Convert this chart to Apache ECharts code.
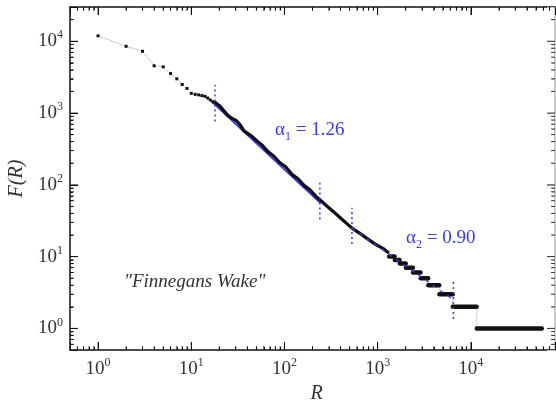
<!DOCTYPE html>
<html>
<head>
<meta charset="utf-8">
<script src="https://cdn.jsdelivr.net/npm/echarts@6/dist/echarts.min.js"></script>
<style>
    html, body { margin: 0; padding: 0; background: #fff; }
    #chart { width: 556px; height: 401px; }
</style>
</head>
<body>
<div id="chart"></div>
<script>
// top ranks, drawn as single dots
var headRank = [1, 2, 3, 4, 5, 6, 7, 8, 9, 10, 11, 12, 13, 14, 15, 16, 17, 18];
var headFreq = [11900, 8500, 7250, 4550, 4400, 3550, 3000, 2500, 2200, 1880, 1820, 1790, 1750, 1710, 1620, 1520, 1440, 1400];

// middle ranks, dense curve
var midRank = [18, 20.3, 22.4, 24.8, 27.4, 30.2, 33.3, 36.8, 40.6, 44.8, 50.7, 57.4, 66.5, 77.2, 89.5, 104, 120, 140, 162, 188, 218, 240, 279, 331, 394, 457, 530, 645, 767, 934, 1138, 1288];
var midFreq = [1400, 1247, 1070, 920, 844, 787, 688, 564, 517, 473, 408, 358, 290, 250, 203, 176, 140, 121, 98, 85, 69, 62, 52, 43, 35, 29.5, 25, 21, 18, 15, 13, 11.5];

// low frequency plateaus
var stepFreq = [10, 9, 8, 7, 6, 5, 4, 3, 2, 1];
var stepStart = [1330, 1530, 1730, 2010, 2400, 2900, 3500, 4600, 6400, 11600];
var stepEnd = [1520, 1720, 2000, 2390, 2880, 3480, 4580, 6380, 11550, 57700];

// fitted power laws
var fit1Rank = [17, 245];
var fit1Freq = [1400, 55];
var fit2Rank = [530, 6500];
var fit2Freq = [25, 2.5];

// dotted markers at the fit bounds
var cutRank = [18, 240, 530, 6500];
var cutLow = [760, 33, 15, 1.35];
var cutHigh = [2450, 107, 48, 4.8];

// decade ticks
var majorTicks = [1, 10, 100, 1000, 10000];
var xMin = 0.5, xMax = 80000;
var yMin = 0.5, yMax = 30000;

var BLUE = '#3a3af2';
var SERIF = 'Liberation Serif';
var INK = '#111';

var labelRich = {
    b: { fontSize: 19, fontFamily: SERIF, color: '#333', lineHeight: 24, verticalAlign: 'middle' },
    s: { fontSize: 12, fontFamily: SERIF, color: '#333', lineHeight: 12, verticalAlign: 'top' }
};

function pairs(xs, ys) {
    return xs.map(function (x, i) { return [x, ys[i]]; });
}

/**
 * minor ticks 2..9 in each decade inside (lo, hi)
 */
function minorTicks(lo, hi) {
    var res = [];
    for (var e = -1; e <= 5; e++) {
        for (var m = 2; m <= 9; m++) {
            var v = m * Math.pow(10, e);
            if (v > lo && v < hi) res.push(v);
        }
    }
    return res;
}

// 10^n labels only, nothing at the axis ends
function powLabel(v) {
    var e = Math.log(v) / Math.LN10;
    if (Math.abs(e - Math.round(e)) > 1e-6) return '';
    return '{b|10}{s|' + Math.round(e) + '}';
}

// inward tick marks placed through the axes
function tickSeries(data, size, offset) {
    return {
        type: 'scatter', data: data, symbol: 'rect', symbolSize: size, symbolOffset: offset,
        clip: false, itemStyle: { color: INK }
    };
}

function axisDef(pos, lo, hi, lineColor, withLabels) {
    return {
        type: 'log', min: lo, max: hi, position: pos,
        axisLine: { show: true, lineStyle: { color: lineColor, width: 1.5 } },
        axisTick: { show: true, inside: true, length: 8 },
        minorTick: { show: true, splitNumber: 9 },
        axisLabel: withLabels ? {
            show: true, margin: 7, formatter: powLabel, rich: labelRich
        } : { show: false },
        splitLine: { show: false }
    };
}

function initChart() {
    var chart = echarts.init(document.getElementById('chart'));
    var minX = minorTicks(xMin, xMax);
    var minY = minorTicks(yMin, yMax);

    var xBottom = axisDef('bottom', xMin, xMax, INK, true);
    xBottom.name = 'R';
    xBottom.nameLocation = 'middle';
    xBottom.nameGap = 21;
    xBottom.nameTextStyle = { fontFamily: SERIF, fontStyle: 'italic', fontSize: 20, color: '#333', padding: [0, 0, 0, 8] };

    var yLeft = axisDef('left', yMin, yMax, INK, true);
    yLeft.name = 'F(R)';
    yLeft.nameLocation = 'middle';
    yLeft.nameGap = 39;
    yLeft.nameTextStyle = { fontFamily: SERIF, fontStyle: 'italic', fontSize: 20, color: '#333' };

    var series = [];
    // fitted line 1 (under the data)
    series.push({
        type: 'line', data: pairs(fit1Rank, fit1Freq), symbol: 'none', z: 3,
        lineStyle: { color: BLUE, width: 1.8 }
    });
    // thin connectors
    series.push({
        type: 'line', symbol: 'none', z: 2,
        data: [[midRank[midRank.length - 1], midFreq[midFreq.length - 1]]].concat(
            stepStart.reduce(function (acc, s, i) {
                acc.push([s, stepFreq[i]], [stepEnd[i], stepFreq[i]]);
                return acc;
            }, [])),
        lineStyle: { color: '#aaa', width: 1, type: 'dotted' }
    });
    // top ranks
    series.push({
        type: 'line', data: pairs(headRank, headFreq), z: 4,
        symbol: 'rect', symbolSize: 3, showSymbol: true,
        itemStyle: { color: INK },
        lineStyle: { color: '#999', width: 1, type: 'dotted' }
    });
    // dense curve
    series.push({
        type: 'line', data: pairs(midRank, midFreq), symbol: 'none', z: 4,
        lineStyle: { color: INK, width: 3.3, cap: 'round', join: 'round' }
    });
    // plateaus
    stepFreq.forEach(function (f, i) {
        series.push({
            type: 'line', data: [[stepStart[i], f], [stepEnd[i], f]], symbol: 'none', z: 4,
            lineStyle: { color: INK, width: 4.5, cap: 'round' }
        });
    });
    // dotted fit bounds
    cutRank.forEach(function (r, i) {
        series.push({
            type: 'line', data: [[r, cutLow[i]], [r, cutHigh[i]]], symbol: 'none', z: 5,
            lineStyle: { color: BLUE, width: 1.5, type: [2, 3] }
        });
    });
    // fitted line 2, dashed on top of the steps
    series.push({
        type: 'line', data: pairs(fit2Rank, fit2Freq), symbol: 'none', z: 5,
        lineStyle: { color: BLUE, width: 1.3, type: [4, 5] }
    });

    // tick marks on all four sides
    series.push(tickSeries(majorTicks.map(function (v) { return [v, yMin]; }), [1, 8], [0, -4]));
    series.push(tickSeries(minX.map(function (v) { return [v, yMin]; }), [1, 4], [0, -2]));
    series.push(tickSeries(majorTicks.map(function (v) { return [v, yMax]; }), [1, 8], [0, 4]));
    series.push(tickSeries(minX.map(function (v) { return [v, yMax]; }), [1, 4], [0, 2]));
    series.push(tickSeries(majorTicks.map(function (v) { return [xMin, v]; }), [8, 1], [4, 0]));
    series.push(tickSeries(minY.map(function (v) { return [xMin, v]; }), [4, 1], [2, 0]));
    series.push(tickSeries(majorTicks.map(function (v) { return [xMax, v]; }), [8, 1], [-4, 0]));
    series.push(tickSeries(minY.map(function (v) { return [xMax, v]; }), [4, 1], [-2, 0]));

    var option = {
        animation: false,
        grid: { left: 70, top: 7, right: 1, bottom: 51, outerBoundsMode: 'none' },
        xAxis: [
            xBottom,
            axisDef('top', xMin, xMax, INK, false)
        ],
        yAxis: [
            yLeft,
            axisDef('right', yMin, yMax, '#bbb', false)
        ],
        graphic: [
            {
                type: 'text', left: 275, top: 121,
                style: {
                    text: '{a|α}{s|1}{a| = 1.26}',
                    rich: {
                        a: { fontSize: 19, fontFamily: SERIF, fill: BLUE, lineHeight: 24, verticalAlign: 'middle' },
                        s: { fontSize: 12, fontFamily: SERIF, fill: BLUE, lineHeight: 12, verticalAlign: 'bottom' }
                    }
                }
            },
            {
                type: 'text', left: 406, top: 229,
                style: {
                    text: '{a|α}{s|2}{a| = 0.90}',
                    rich: {
                        a: { fontSize: 19, fontFamily: SERIF, fill: BLUE, lineHeight: 24, verticalAlign: 'middle' },
                        s: { fontSize: 12, fontFamily: SERIF, fill: BLUE, lineHeight: 12, verticalAlign: 'bottom' }
                    }
                }
            },
            {
                type: 'text', left: 124, top: 272,
                style: {
                    text: '"Finnegans Wake"',
                    fill: '#333',
                    font: 'italic 19px "Liberation Serif"'
                }
            }
        ],
        series: series
    };
    chart.setOption(option);
}

initChart();
</script>
</body>
</html>
